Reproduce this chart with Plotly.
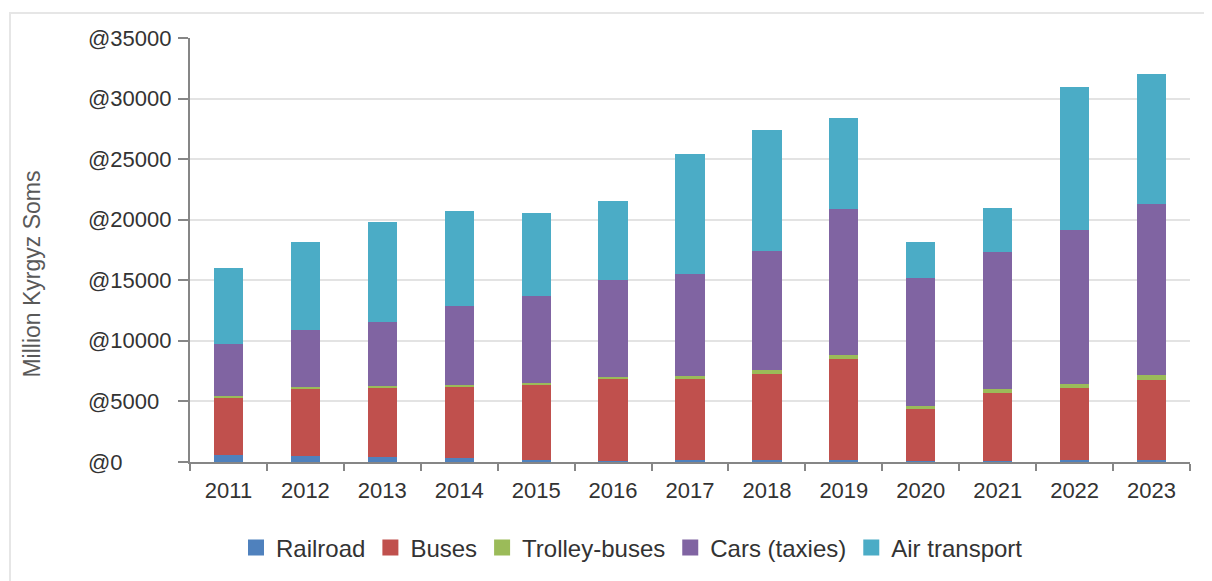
import plotly.graph_objects as go

years = ["2011", "2012", "2013", "2014", "2015", "2016", "2017",
         "2018", "2019", "2020", "2021", "2022", "2023"]
railroad = [575, 520, 410, 330, 190, 100, 150, 150, 180, 60, 70, 150, 200]
buses = [4695, 5490, 5660, 5846, 6233, 6735, 6700, 7100, 8360, 4305, 5590, 5970, 6550]
trolley = [165, 190, 215, 190, 137, 190, 260, 330, 330, 275, 330, 360, 415]
cars = [4280, 4670, 5245, 6480, 7110, 7963, 8370, 9878, 12047, 10510, 11385, 12708, 14164]
air = [6340, 7250, 8315, 7905, 6918, 6588, 9966, 9965, 7494, 3050, 3625, 11776, 10705]

series_names = ["Railroad", "Buses", "Trolley-buses", "Cars (taxies)", "Air transport"]
series_values = [railroad, buses, trolley, cars, air]
series_colors = ["#4F81BD", "#C0504D", "#9BBB59", "#8064A2", "#4BACC6"]

y_ticks = [0, 5000, 10000, 15000, 20000, 25000, 30000, 35000]
y_tick_labels = ["@" + str(v) for v in y_ticks]
y_title = "Million Kyrgyz Soms"

FONT = "Liberation Sans, Arial, sans-serif"

fig = go.Figure()
for name, vals, col in zip(series_names, series_values, series_colors):
    fig.add_trace(go.Bar(x=years, y=vals, name=name, showlegend=False,
                         marker=dict(color=col, line=dict(width=0))))
# legend entries with larger square swatches
for name, col in zip(series_names, series_colors):
    fig.add_trace(go.Scatter(x=[None], y=[None], mode="markers", name=name,
                             marker=dict(symbol="square", size=16, color=col)))

for v, lab in zip(y_ticks, y_tick_labels):
    fig.add_annotation(x=-0.104, xref="paper", y=v, yref="y", text=lab,
                       showarrow=False, xanchor="left", yanchor="middle",
                       font=dict(family=FONT, size=22, color="#333333"))

fig.add_annotation(x=-0.158, xref="paper", y=0.442, yref="paper", text=y_title,
                   textangle=-90, showarrow=False, xanchor="center", yanchor="middle",
                   font=dict(family=FONT, size=23, color="#595959"))

fig.add_shape(type="rect", xref="paper", yref="paper",
              x0=-0.18, x1=1.05, y0=-0.35, y1=1.0588,
              line=dict(color="#E6E6E6", width=2), layer="below")

fig.update_layout(
    barmode="stack",
    bargap=0.62,
    width=1204, height=573,
    margin=dict(l=182, r=22, t=30, b=118),
    paper_bgcolor="white", plot_bgcolor="white",
    font=dict(family=FONT, size=22, color="#333333"),
    showlegend=True,
    legend=dict(orientation="h", x=0.442, xanchor="center", y=-0.2, yanchor="middle",
                font=dict(family=FONT, size=24, color="#333333"),
                traceorder="normal", itemwidth=30, itemsizing="trace"),
    xaxis=dict(type="category", showgrid=False, showline=True, linecolor="#868686",
               linewidth=2, ticks="outside", tickson="boundaries", ticklen=7,
               tickcolor="#868686", tickwidth=2, ticklabelstandoff=8,
               tickfont=dict(family=FONT, size=22, color="#333333")),
    yaxis=dict(range=[0, 35000], tickvals=y_ticks, showticklabels=False,
               showgrid=True, gridcolor="#E3E3E3", gridwidth=2,
               showline=True, linecolor="#868686", linewidth=2,
               ticks="outside", ticklen=10, tickcolor="#868686", tickwidth=2,
               zeroline=False),
)

fig.write_html("out.html")
